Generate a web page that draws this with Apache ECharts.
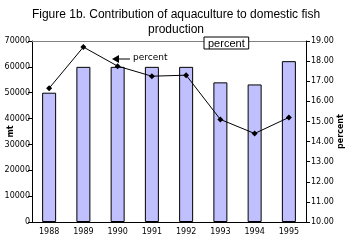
<!DOCTYPE html>
<html>
<head>
<meta charset="utf-8">
<script src="https://cdn.jsdelivr.net/npm/echarts@6/dist/echarts.min.js"></script>
<style>
  html, body { margin: 0; padding: 0; background: #fff; }
  #chart { width: 352px; height: 240px; }
</style>
</head>
<body>
<div id="chart"></div>
<script>
  const years = ['1988', '1989', '1990', '1991', '1992', '1993', '1994', '1995']
  const production = [50000, 60000, 60000, 60000, 60000, 54000, 53200, 62200]
  const percent = [16.65, 18.7, 17.75, 17.25, 17.3, 15.1, 14.4, 15.2]

  const myChart = echarts.init(document.getElementById('chart'))
  const labelFont = { fontFamily: 'DejaVu Sans', fontSize: 8, color: '#000' }

  const option = {
    animation: false,
    title: {
      text: 'Figure 1b. Contribution of aquaculture to domestic fish\nproduction',
      left: 'center',
      top: 2,
      textStyle: { fontFamily: 'Liberation Sans', fontSize: 12, fontWeight: 'normal', color: '#000', lineHeight: 15 }
    },
    legend: {
      data: ['percent'],
      left: 204,
      top: 37,
      icon: 'rect',
      itemWidth: 0,
      itemHeight: 0,
      padding: [1, 4, 0, -1],
      borderColor: '#000',
      borderWidth: 1,
      borderRadius: 0,
      backgroundColor: '#fff',
      textStyle: { fontFamily: 'Liberation Sans', fontSize: 11, color: '#000' }
    },
    grid: { left: 32, right: 46, top: 41, bottom: 18, containLabel: false, outerBoundsMode: 'none' },
    xAxis: [
      {
        type: 'category',
        data: years,
        axisLine: { lineStyle: { color: '#000', width: 1 } },
        axisTick: { length: 4, lineStyle: { color: '#000' } },
        axisLabel: Object.assign({ margin: 6 }, labelFont)
      },
      {
        type: 'category',
        data: years,
        position: 'top',
        axisLine: { lineStyle: { color: '#808080', width: 1 } },
        axisTick: { show: false },
        axisLabel: { show: false }
      }
    ],
    yAxis: [
      {
        type: 'value',
        name: 'mt',
        nameLocation: 'middle',
        nameRotate: 90,
        nameGap: 17,
        nameMoveOverlap: false,
        nameTextStyle: { fontFamily: 'DejaVu Sans', fontSize: 8, fontWeight: 'bold', color: '#000' },
        min: 0,
        max: 70000,
        interval: 10000,
        axisLine: { show: true, lineStyle: { color: '#000' } },
        axisTick: { show: true, length: 4, lineStyle: { color: '#000' } },
        axisLabel: Object.assign({ margin: 2, formatter: v => String(v) }, labelFont),
        splitLine: { show: false }
      },
      {
        type: 'value',
        name: 'percent',
        nameLocation: 'middle',
        nameRotate: 90,
        nameGap: 31,
        nameMoveOverlap: false,
        nameTextStyle: { fontFamily: 'DejaVu Sans', fontSize: 8, fontWeight: 'bold', color: '#000' },
        min: 10,
        max: 19,
        interval: 1,
        axisLine: { show: true, lineStyle: { color: '#000' } },
        axisTick: { show: true, length: 4, lineStyle: { color: '#000' } },
        axisLabel: Object.assign({ margin: 5, formatter: v => v.toFixed(2) }, labelFont),
        splitLine: { show: false }
      }
    ],
    series: [
      {
        name: 'mt',
        type: 'bar',
        data: production,
        barWidth: 14,
        itemStyle: { color: '#c0c0ff', borderColor: '#000', borderWidth: 1 }
      },
      {
        name: 'percent',
        type: 'line',
        yAxisIndex: 1,
        data: percent,
        symbol: 'diamond',
        symbolSize: 6,
        lineStyle: { color: '#000', width: 1 },
        itemStyle: { color: '#000' }
      }
    ],
    graphic: [
      { type: 'line', shape: { x1: 117, y1: 59, x2: 130, y2: 59 }, style: { stroke: '#000', lineWidth: 1 } },
      { type: 'polygon', shape: { points: [[112, 59], [119, 55], [119, 63]] }, style: { fill: '#000' } },
      { type: 'text', left: 133, top: 53, style: { text: 'percent', font: '9px DejaVu Sans', fill: '#000' } }
    ]
  }
  myChart.setOption(option)
</script>
</body>
</html>
